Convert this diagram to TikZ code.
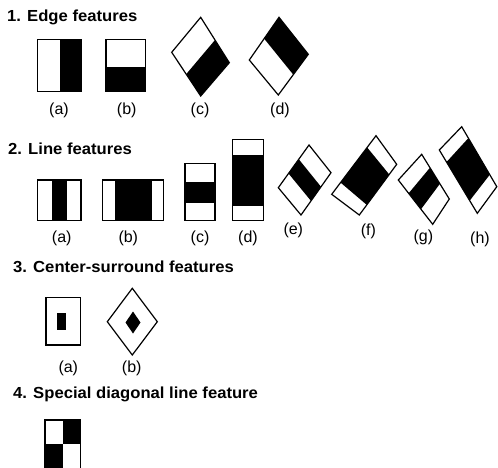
\documentclass[tikz,border=0pt]{standalone}
\usepackage{fontspec}
\setmainfont{Liberation Sans}
\newfontfamily\titlefont{Liberation Sans Bold}[FakeStretch=1.04]
\usetikzlibrary{calc}
\begin{document}
\begin{tikzpicture}[x=1pt,y=-1pt,
  outline/.style={draw=black, line width=1.2pt, line join=miter},
  blk/.style={fill=black},
  ttl/.style={anchor=base west, inner sep=0pt, font=\titlefont\fontsize{16}{18}\selectfont},
  lbl/.style={inner sep=0pt, font=\fontsize{16}{18}\selectfont}]
\useasboundingbox (0,0) rectangle (498,467);
\clip (0,0) rectangle (498,467);

% ---------- titles ----------
\node[ttl] (t1) at (7,21.7) {1. Edge features};
\node[ttl] (t2) at (8,154) {2. Line features};
\node[ttl] (t3) at (13,272) {3. Center-surround features};
\node[ttl] (t4) at (13,398) {4. Special diagonal line feature};

% ---------- 1. edge features ----------
% (a)
\fill[blk] (60,39.3) rectangle (81,91.7);
\draw[outline] (37.7,39.3) rectangle (81,91.7);
% (b)
\fill[blk] (106,66.7) rectangle (145.7,91.7);
\draw[outline] (106,39.3) rectangle (145.7,91.7);
% (c)
\coordinate (cA) at (171.7,52.3); \coordinate (cB) at (200.7,17.3);
\coordinate (cC) at (229.3,62.7); \coordinate (cD) at (200.7,96);
\fill[blk] ($(cA)!0.5!(cD)$) -- ($(cB)!0.5!(cC)$) -- (cC) -- (cD) -- cycle;
\draw[outline] (cA) -- (cB) -- (cC) -- (cD) -- cycle;
% (d)
\coordinate (dA) at (249.3,60); \coordinate (dB) at (279,17.3);
\coordinate (dC) at (308.3,54.3); \coordinate (dD) at (278.3,95);
\fill[blk] ($(dA)!0.5!(dB)$) -- (dB) -- (dC) -- ($(dD)!0.5!(dC)$) -- cycle;
\draw[outline] (dA) -- (dB) -- (dC) -- (dD) -- cycle;

\node[lbl] (l1a) at (59,110) {(a)};
\node[lbl] (l1b) at (126.7,110) {(b)};
\node[lbl] (l1c) at (200,110) {(c)};
\node[lbl] (l1d) at (280,110) {(d)};

% ---------- 2. line features ----------
% (a)
\fill[blk] (51.7,180) rectangle (67.3,220.7);
\draw[outline] (37.3,180) rectangle (81,220.7);
% (b)
\fill[blk] (115,180) rectangle (151.7,220.7);
\draw[outline] (102.3,180) rectangle (163.3,220.7);
% (c)
\fill[blk] (185,181.7) rectangle (215,202.7);
\draw[outline] (185,163.3) rectangle (215,220.7);
% (d)
\fill[blk] (232.7,155) rectangle (263.3,206);
\draw[outline] (232.7,139.3) rectangle (263.3,220.7);
% (e)
\coordinate (eA) at (278.3,187.7); \coordinate (eB) at (309,145);
\coordinate (eC) at (331,172.7); \coordinate (eD) at (301,215);
\fill[blk] ($(eA)!0.333!(eB)$) -- ($(eA)!0.667!(eB)$) -- ($(eD)!0.667!(eC)$) -- ($(eD)!0.333!(eC)$) -- cycle;
\draw[outline] (eA) -- (eB) -- (eC) -- (eD) -- cycle;
% (f)
\coordinate (fA) at (331.7,194.3); \coordinate (fB) at (376,135.7);
\coordinate (fC) at (396.7,164.3); \coordinate (fD) at (359.3,215);
\fill[blk] ($(fA)!0.2!(fB)$) -- ($(fA)!0.8!(fB)$) -- ($(fD)!0.8!(fC)$) -- ($(fD)!0.2!(fC)$) -- cycle;
\draw[outline] (fA) -- (fB) -- (fC) -- (fD) -- cycle;
% (g)
\coordinate (gA) at (398.3,180); \coordinate (gB) at (421.7,154.3);
\coordinate (gC) at (449.3,199); \coordinate (gD) at (432.7,224.3);
\fill[blk] ($(gA)!0.3!(gD)$) -- ($(gA)!0.66!(gD)$) -- ($(gB)!0.66!(gC)$) -- ($(gB)!0.3!(gC)$) -- cycle;
\draw[outline] (gA) -- (gB) -- (gC) -- (gD) -- cycle;
% (h)
\coordinate (hA) at (439.3,150); \coordinate (hB) at (461.7,126.7);
\coordinate (hC) at (496.8,186.7); \coordinate (hD) at (477.3,213.3);
\fill[blk] ($(hA)!0.19!(hD)$) -- ($(hA)!0.8!(hD)$) -- ($(hB)!0.8!(hC)$) -- ($(hB)!0.19!(hC)$) -- cycle;
\draw[outline] (hA) -- (hB) -- (hC) -- (hD) -- cycle;

\node[lbl] (l2a) at (61.7,238) {(a)};
\node[lbl] (l2b) at (128.3,238) {(b)};
\node[lbl] (l2c) at (200,238) {(c)};
\node[lbl] (l2d) at (248,238) {(d)};
\node[lbl] (l2e) at (293.3,230) {(e)};
\node[lbl] (l2f) at (368.3,231) {(f)};
\node[lbl] (l2g) at (423.3,237.7) {(g)};
\node[lbl] (l2h) at (480,239.3) {(h)};

% ---------- 3. center-surround ----------
\draw[outline] (46,297.3) rectangle (80.7,345);
\fill[blk] (57.3,312.7) rectangle (65.7,330);
\draw[outline] (132.3,288.3) -- (157.3,321.7) -- (132.3,355) -- (107.3,321.7) -- cycle;
\fill[blk] (133,311.5) -- (140.5,322.5) -- (133,333.5) -- (125.5,322.5) -- cycle;

\node[lbl] (l3a) at (68.3,368.3) {(a)};
\node[lbl] (l3b) at (131.7,368.3) {(b)};

% ---------- 4. special diagonal ----------
\fill[blk] (62.7,420) rectangle (80.7,444);
\fill[blk] (45,444) rectangle (62.7,480);
\draw[outline] (45,420) rectangle (80.7,480);
\end{tikzpicture}
\end{document}
